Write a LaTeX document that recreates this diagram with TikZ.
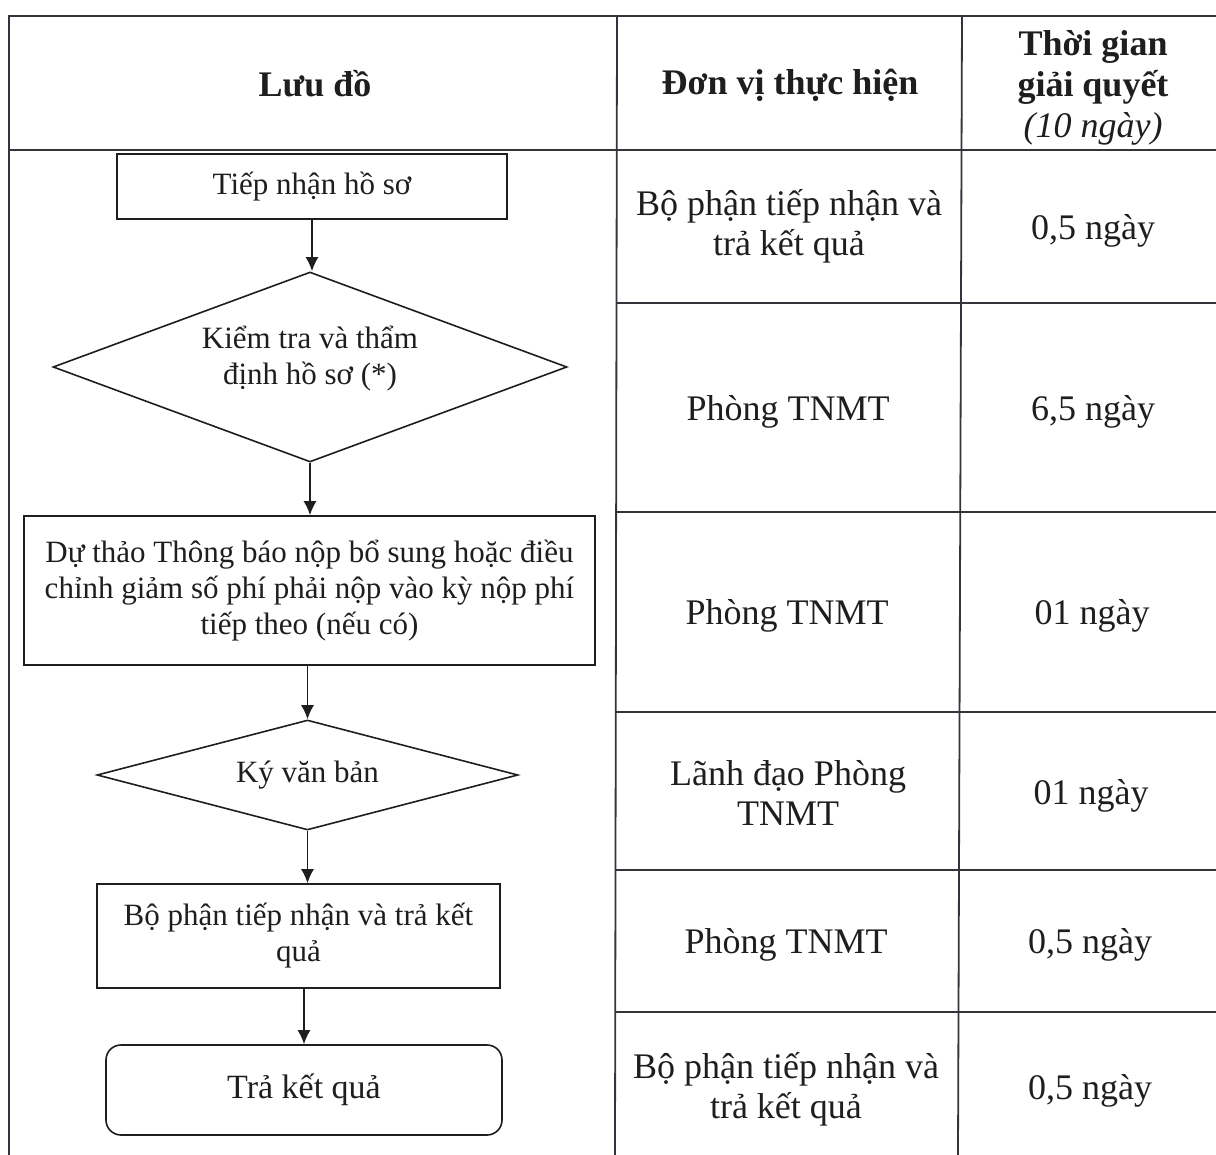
\documentclass[tikz,border=0pt]{standalone}
\usepackage{fontspec}
\setmainfont{Liberation Serif}
\usetikzlibrary{shapes.geometric,arrows.meta}

\definecolor{ink}{HTML}{1E1E1E}
\definecolor{rule}{HTML}{34343A}

\newcommand\fcFlow{\fontsize{15.5}{18}\selectfont}
\newcommand\fcCell{\fontsize{18}{20}\selectfont}
\newcommand\fcHead{\fontsize{18}{20.5}\selectfont\bfseries}

\begin{document}
\begin{tikzpicture}[x=0.5pt,y=-0.5pt,
  grid/.style={draw=rule,line width=0.9pt},
  stepbox/.style={draw=ink,line width=0.8pt,align=center,inner sep=0pt,font=\fcFlow,text=ink},
  decision/.style={diamond,draw=ink,line width=0.8pt,align=center,inner sep=0pt,aspect=2.7,font=\fcFlow,text=ink},
  arr/.style={draw=ink,line width=0.8pt,-{Latex[length=7pt,width=6.5pt]}},
  cell/.style={align=center,font=\fcCell,text=ink},
  head/.style={align=center,font=\fcHead,text=ink}]

\useasboundingbox (0,0) rectangle (1216,1155);

% table frame and column rules
\draw[grid] (1216,16) -- (9,16) -- (9,1155);
\draw[grid] (9,150) -- (1216,150);
\draw[grid] (617,16) -- (615,1155);
\draw[grid] (962,16) -- (958,1155);
% row rules of the two right-hand columns
\foreach \y in {303,512,712,870,1012}
  \draw[grid] (616,\y) -- (1216,\y);

% header
\node[head] (h1) at (315,84) {Lưu đồ};
\node[head] (h2) at (790,85) {Đơn vị thực hiện};
\node[head] (h3) at (1093,88) {Thời gian\\giải quyết\\{\normalfont\itshape (10 ngày)}};

% flowchart
\node[stepbox,minimum width=195pt,minimum height=32.5pt] (b1) at (312,186.5) {Tiếp nhận hồ sơ};
\node[decision,text depth=12pt,minimum width=257pt,minimum height=95pt] (d1) at (310,367) {Kiểm tra và thẩm\\định hồ sơ (*)};
\node[stepbox,minimum width=285.5pt,minimum height=74.5pt] (b3) at (309.5,590.5)
  {Dự thảo Thông báo nộp bổ sung hoặc điều\\chỉnh giảm số phí phải nộp vào kỳ nộp phí\\tiếp theo (nếu có)};
\node[decision,minimum width=210.5pt,minimum height=55pt] (d2) at (307.5,775) {Ký văn bản};
\node[stepbox,minimum width=201.5pt,minimum height=52pt] (b4) at (298.5,936) {Bộ phận tiếp nhận và trả kết\\quả};
\node[stepbox,font=\fontsize{17}{20}\selectfont,rounded corners=7.5pt,minimum width=198pt,minimum height=45pt] (b5) at (304,1090) {Trả kết quả};

\draw[arr] (b1.south) -- (b1.south |- d1.north);
\draw[arr] (d1.south) -- (d1.south |- b3.north);
\draw[arr] (d2.north |- b3.south) -- (d2.north);
\draw[arr] (d2.south) -- (d2.south |- b4.north);
\draw[arr] (b5.north |- b4.south) -- (b5.north);

% unit column
\node[cell] (u1) at (789,226) {Bộ phận tiếp nhận và\\trả kết quả};
\node[cell] (u2) at (788,412) {Phòng TNMT};
\node[cell] (u3) at (787,616) {Phòng TNMT};
\node[cell] (u4) at (788,793) {Lãnh đạo Phòng\\TNMT};
\node[cell] (u5) at (786,945) {Phòng TNMT};
\node[cell] (u6) at (786,1089) {Bộ phận tiếp nhận và\\trả kết quả};

% time column
\node[cell] (t1) at (1093,231) {0,5 ngày};
\node[cell] (t2) at (1093,412) {6,5 ngày};
\node[cell] (t3) at (1092,616) {01 ngày};
\node[cell] (t4) at (1091,796) {01 ngày};
\node[cell] (t5) at (1090,945) {0,5 ngày};
\node[cell] (t6) at (1090,1091) {0,5 ngày};
\end{tikzpicture}
\end{document}
